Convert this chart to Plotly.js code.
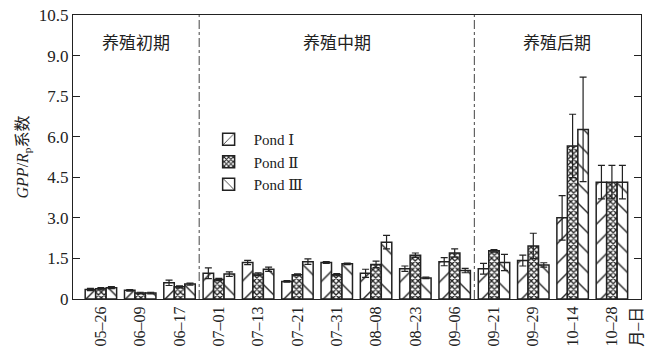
<!DOCTYPE html>
<html><head><meta charset="utf-8">
<script src="https://cdn.plot.ly/plotly-3.0.1.min.js"></script>
<style>body{margin:0;background:#fff}#c{width:649px;height:358px}</style>
</head><body><div id="c"></div>
<script>
const dates = ["05–26","06–09","06–17","07–01","07–13","07–21","07–31","08–08","08–23","09–06","09–21","09–29","10–14","10–28"];
const pond1 = [0.35,0.32,0.60,0.95,1.35,0.65,1.35,0.95,1.12,1.38,1.12,1.42,3.00,4.32];
const pond2 = [0.38,0.22,0.45,0.72,0.92,0.90,0.90,1.28,1.62,1.70,1.78,1.96,5.66,4.32];
const pond3 = [0.42,0.22,0.55,0.92,1.10,1.38,1.30,2.10,0.78,1.05,1.35,1.26,6.27,4.32];
const err1 = [0.04,0.03,0.10,0.20,0.08,0.03,0.03,0.15,0.10,0.15,0.20,0.20,0.82,0.62];
const err2 = [0.04,0.03,0.04,0.04,0.05,0.03,0.04,0.12,0.08,0.15,0.05,0.47,1.17,0.62];
const err3 = [0.04,0.03,0.04,0.08,0.08,0.10,0.03,0.25,0.03,0.08,0.30,0.08,1.93,0.62];
const seriesNames = ["Pond Ⅰ","Pond Ⅱ","Pond Ⅲ"];
const yTicks = [0,1.5,3.0,4.5,6.0,7.5,9.0,10.5];
const yTickText = ["0","1.5","3.0","4.5","6.0","7.5","9.0","10.5"];
const phases = ["养殖初期","养殖中期","养殖后期"];
const unitLabel = "月–日";

const lineCol = "#222";
function bar(y, e, name, shape, size, sol){
  return {type:"bar", x:dates.map((d,i)=>i), y:y, name:name,
    marker:{color:"#fff", line:{color:lineCol,width:1.5},
      pattern:{shape:shape, size:size, solidity:sol, fgcolor:"#222", bgcolor:"#fff"}},
    error_y:{type:"data", array:e, visible:true, color:"#222", thickness:1.2, width:3.5}};
}
const data = [
  bar(pond1, err1, seriesNames[0], "/", 14, 0.1),
  bar(pond2, err2, seriesNames[1], "x", 4, 0.55),
  bar(pond3, err3, seriesNames[2], "\\", 14, 0.1)
];
const serif = "Times New Roman, Liberation Serif, DejaVu Serif, Noto Sans CJK SC, serif";
const layout = {
  width:649, height:358, margin:{l:73, r:8, t:15, b:59},
  paper_bgcolor:"#fff", plot_bgcolor:"#fff",
  font:{family:serif, color:"#222"},
  barmode:"group", bargap:0.2, bargroupgap:0,
  showlegend:true,
  legend:{x:0.23, y:0.62, xanchor:"left", yanchor:"top", bgcolor:"rgba(0,0,0,0)",
    font:{family:serif, size:15, color:"#222"}, tracegroupgap:0, itemwidth:40},
  xaxis:{range:[-0.71,13.74], tickmode:"array", tickvals:dates.map((d,i)=>i), ticktext:dates,
    tickangle:-90, ticks:"", showline:true, linecolor:"#222", linewidth:1.2, mirror:true,
    showgrid:false, zeroline:false, tickfont:{family:serif, size:16, color:"#222"}},
  yaxis:{range:[0,10.5], tickmode:"array", tickvals:yTicks, ticktext:yTickText,
    ticks:"inside", ticklen:7, tickcolor:"#222", showline:true, linecolor:"#222", linewidth:1.2,
    mirror:"allticks", showgrid:false, zeroline:false,
    tickfont:{family:serif, size:17, color:"#222"},
    title:{text:"<i>GPP</i>/<i>R</i><sub>p</sub>系数", font:{family:serif, size:16, color:"#222"}, standoff:6}},
  shapes:[
    {type:"line", xref:"x", yref:"paper", x0:2.5, x1:2.5, y0:0, y1:1, line:{color:"#444", width:1, dash:"dashdot"}},
    {type:"line", xref:"x", yref:"paper", x0:9.5, x1:9.5, y0:0, y1:1, line:{color:"#444", width:1, dash:"dashdot"}}
  ],
  annotations:[
    {text:phases[0], xref:"x", yref:"paper", x:0.9, y:0.94, showarrow:false, font:{family:serif, size:17, color:"#222"}},
    {text:phases[1], xref:"x", yref:"paper", x:6.0, y:0.94, showarrow:false, font:{family:serif, size:17, color:"#222"}},
    {text:phases[2], xref:"x", yref:"paper", x:11.6, y:0.94, showarrow:false, font:{family:serif, size:17, color:"#222"}},
    {text:unitLabel, xref:"paper", yref:"paper", x:0.993, y:-0.02, xanchor:"center", yanchor:"top", textangle:-90, showarrow:false, font:{family:serif, size:16, color:"#222"}}
  ]
};
Plotly.newPlot("c", data, layout, {staticPlot:true});
</script></body></html>
